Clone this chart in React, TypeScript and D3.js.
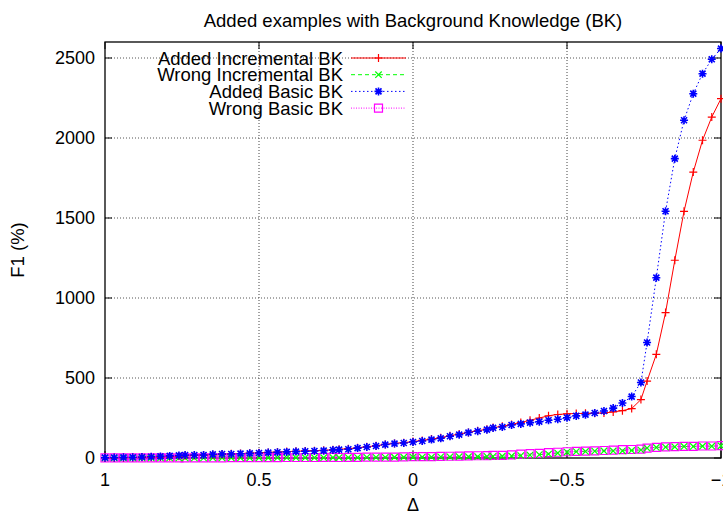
import React, { useEffect, useRef } from "react";
import * as d3 from "d3";

// delta values, sampled in blocks around 1, 0.5, 0, -0.5, -1
const deltas = [
  1, 0.97, 0.94, 0.91, 0.88, 0.85, 0.82, 0.79, 0.76,
  0.74, 0.71, 0.68, 0.65, 0.62, 0.59, 0.56, 0.53, 0.5, 0.47, 0.44, 0.41, 0.38, 0.35, 0.32, 0.29, 0.26,
  0.24, 0.21, 0.18, 0.15, 0.12, 0.09, 0.06, 0.03, 0, -0.03, -0.06, -0.09, -0.12, -0.15, -0.18, -0.21, -0.24,
  -0.26, -0.29, -0.32, -0.35, -0.38, -0.41, -0.44, -0.47, -0.5, -0.53, -0.56, -0.59, -0.62, -0.65, -0.68, -0.71, -0.74,
  -0.76, -0.79, -0.82, -0.85, -0.88, -0.91, -0.94, -0.97, -1,
];

const addedIncremental = [
  1, 2, 2, 3, 4, 5, 6, 8, 11,
  14, 16, 18, 21, 24, 26, 28, 30, 33, 35, 37, 40, 42, 44, 46, 48, 51,
  54, 58, 64, 70, 77, 85, 91, 96, 103, 110, 118, 127, 139, 150, 160, 170, 180,
  190, 198, 210, 222, 236, 250, 264, 272, 276, 278, 279, 280, 281, 288, 296, 309, 365,
  481, 648, 909, 1236, 1542, 1787, 1986, 2131, 2246,
];

const wrongIncremental = [
  0, 0, 0, 0, 0, 0, 0, 0, 0,
  0, 0, 0, 1, 1, 1, 1, 1, 1, 1, 2, 2, 2, 2, 2, 2, 3,
  3, 3, 3, 4, 4, 4, 5, 5, 5, 6, 6, 7, 7, 8, 8, 9, 10,
  10, 11, 13, 15, 18, 21, 25, 31, 37, 40, 41, 43, 44, 44, 45, 47, 50,
  62, 66, 68, 70, 72, 72, 74, 74, 76,
];

const addedBasic = [
  2, 3, 4, 5, 6, 8, 10, 13, 16,
  19, 19, 19, 23, 25, 25, 27, 29, 31, 34, 36, 38, 40, 42, 44, 46, 50,
  52, 55, 62, 69, 75, 84, 90, 94, 100, 106, 115, 123, 136, 146, 159, 167, 177,
  188, 194, 206, 213, 221, 227, 236, 242, 252, 263, 271, 281, 294, 312, 344, 384, 472,
  722, 1127, 1542, 1871, 2111, 2277, 2402, 2492, 2559,
];

const wrongBasic = [
  1, 1, 1, 1, 1, 1, 1, 1, 1,
  1, 1, 1, 1, 1, 2, 2, 2, 2, 2, 2, 3, 3, 3, 3, 4, 4,
  3, 4, 4, 5, 5, 6, 6, 7, 8, 8, 9, 10, 11, 12, 13, 14, 15,
  16, 17, 20, 24, 27, 29, 33, 36, 39, 42, 43, 45, 47, 49, 52, 53, 56,
  62, 67, 69, 71, 73, 73, 75, 75, 77,
];

const xTicks = [1, 0.5, 0, -0.5, -1];
const yTicks = [0, 500, 1000, 1500, 2000, 2500];

const series = [
  { name: "Added Incremental BK", values: addedIncremental, color: "#ff0000", dash: null, marker: "plus" },
  { name: "Wrong Incremental BK", values: wrongIncremental, color: "#00ff00", dash: "4,3", marker: "cross" },
  { name: "Added Basic BK", values: addedBasic, color: "#0000ff", dash: "1.5,2.5", marker: "star" },
  { name: "Wrong Basic BK", values: wrongBasic, color: "#ff00ff", dash: "1,1.5", marker: "square" },
];

const W = 723;
const H = 517;
const margin = { top: 42, right: 2, bottom: 59, left: 105 };
const FONT = "'Liberation Sans', Arial, Helvetica, sans-serif";

function drawMarker(g: any, kind: string, x: number, y: number, color: string) {
  const s = 4;
  const p = d3.path();
  if (kind === "plus" || kind === "star") {
    p.moveTo(x - s, y); p.lineTo(x + s, y);
    p.moveTo(x, y - s); p.lineTo(x, y + s);
  }
  if (kind === "cross" || kind === "star") {
    const c = kind === "star" ? 3 : 3.2;
    p.moveTo(x - c, y - c); p.lineTo(x + c, y + c);
    p.moveTo(x - c, y + c); p.lineTo(x + c, y - c);
  }
  if (kind === "square") {
    p.rect(x - 4, y - 4, 8, 8);
  }
  g.append("path")
    .attr("d", p.toString())
    .attr("fill", "none")
    .attr("stroke", color)
    .attr("stroke-width", kind === "star" ? 1.6 : 1.2);
}

export default function App() {
  const ref = useRef<SVGSVGElement>(null);

  useEffect(() => {
    document.body.style.margin = "0";
    const svg = d3.select(ref.current);
    svg.selectAll("*").remove();

    const width = W - margin.left - margin.right;
    const height = H - margin.top - margin.bottom;

    const x = d3.scaleLinear().domain([1, -1]).range([0, width]);
    const y = d3.scaleLinear().domain([0, 2600]).range([height, 0]);

    svg.append("text")
      .text("Added examples with Background Knowledge (BK)")
      .attr("x", margin.left + width / 2)
      .attr("y", 27)
      .attr("text-anchor", "middle")
      .attr("font-family", FONT)
      .attr("font-size", 18.5)
      .attr("fill", "#000");

    const g = svg.append("g").attr("transform", `translate(${margin.left},${margin.top})`);

    // grid
    g.selectAll(".gx")
      .data(xTicks.filter((t) => t !== 1 && t !== -1))
      .enter().append("line")
      .attr("x1", (d) => x(d)).attr("x2", (d) => x(d))
      .attr("y1", 0).attr("y2", height)
      .attr("stroke", "#444").attr("stroke-width", 1).attr("stroke-dasharray", "1,2");

    g.selectAll(".gy")
      .data(yTicks.filter((t) => t !== 0))
      .enter().append("line")
      .attr("x1", 0).attr("x2", width)
      .attr("y1", (d) => y(d)).attr("y2", (d) => y(d))
      .attr("stroke", "#555").attr("stroke-width", 1).attr("stroke-dasharray", "1,2");

    // ticks (inward, on all four sides)
    const tl = 7;
    xTicks.forEach((t) => {
      g.append("line").attr("x1", x(t)).attr("x2", x(t)).attr("y1", height).attr("y2", height - tl).attr("stroke", "#000");
      g.append("line").attr("x1", x(t)).attr("x2", x(t)).attr("y1", 0).attr("y2", tl).attr("stroke", "#000");
      g.append("text")
        .text(d3.format("")(t))
        .attr("x", x(t))
        .attr("y", height + 28)
        .attr("text-anchor", "middle")
        .attr("font-family", FONT)
        .attr("font-size", 18);
    });
    yTicks.forEach((t) => {
      g.append("line").attr("x1", 0).attr("x2", tl).attr("y1", y(t)).attr("y2", y(t)).attr("stroke", "#000");
      g.append("line").attr("x1", width).attr("x2", width - tl).attr("y1", y(t)).attr("y2", y(t)).attr("stroke", "#000");
      g.append("text")
        .text(String(t))
        .attr("x", -10)
        .attr("y", y(t))
        .attr("dy", "0.36em")
        .attr("text-anchor", "end")
        .attr("font-family", FONT)
        .attr("font-size", 18);
    });

    // frame
    g.append("rect")
      .attr("x", 0).attr("y", 0).attr("width", width).attr("height", height)
      .attr("fill", "none").attr("stroke", "#000").attr("stroke-width", 1.3);

    // series
    series.forEach((s) => {
      const line = d3.line<number>()
        .x((_, i) => x(deltas[i]))
        .y((d) => y(d));
      const path = g.append("path")
        .attr("d", line(s.values))
        .attr("fill", "none")
        .attr("stroke", s.color)
        .attr("stroke-width", 1);
      if (s.dash) path.attr("stroke-dasharray", s.dash);
    });
    [3, 1, 0, 2].forEach((k) => {
      const s = series[k];
      s.values.forEach((v, i) => drawMarker(g, s.marker, x(deltas[i]), y(v), s.color));
    });

    // legend
    series.forEach((s, i) => {
      const ly = margin.top + 16 + i * 16.7;
      svg.append("text")
        .text(s.name)
        .attr("x", 343)
        .attr("y", ly)
        .attr("dy", "0.36em")
        .attr("text-anchor", "end")
        .attr("font-family", FONT)
        .attr("font-size", 18.5);
      const ln = svg.append("line")
        .attr("x1", 351).attr("x2", 406)
        .attr("y1", ly).attr("y2", ly)
        .attr("stroke", s.color).attr("stroke-width", 1);
      if (s.dash) ln.attr("stroke-dasharray", s.dash);
      drawMarker(svg, s.marker, 378.5, ly, s.color);
    });

    // axis labels
    svg.append("text")
      .text("F1 (%)")
      .attr("transform", `translate(24,${margin.top + height / 2}) rotate(-90)`)
      .attr("text-anchor", "middle")
      .attr("font-family", FONT)
      .attr("font-size", 18.5);
    svg.append("text")
      .text("Δ")
      .attr("x", margin.left + width / 2)
      .attr("y", 511)
      .attr("text-anchor", "middle")
      .attr("font-family", FONT)
      .attr("font-size", 18);
  }, []);

  return <svg ref={ref} width={W} height={H} style={{ display: "block" }} />;
}
